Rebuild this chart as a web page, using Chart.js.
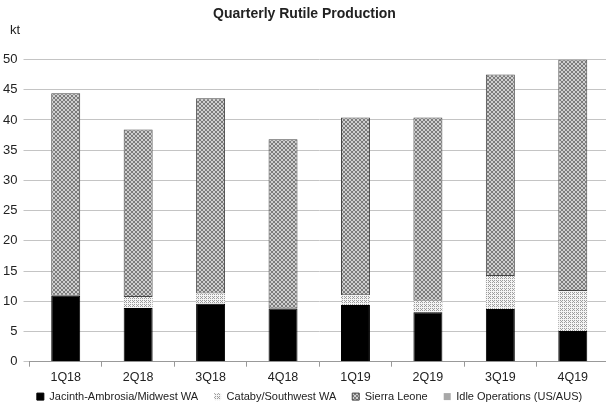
<!DOCTYPE html>
<html>
<head>
<meta charset="utf-8">
<script src="https://cdn.jsdelivr.net/npm/chart.js@4.4.1/dist/chart.umd.min.js"></script>
<style>
  html, body { margin: 0; padding: 0; background: #fff; overflow: hidden; }
  #wrap { width: 606px; height: 408px; overflow: hidden; }
</style>
</head>
<body>
<div id="wrap"><canvas id="chart" width="612" height="408"></canvas></div>
<script>
// data (kt)
const quarters = ['1Q18', '2Q18', '3Q18', '4Q18', '1Q19', '2Q19', '3Q19', '4Q19'];
const jacinth = [10.9, 8.9, 9.6, 8.8, 9.4, 8.2, 8.7, 5.1];
const cataby = [0, 1.8, 1.7, 0, 1.6, 1.9, 5.5, 6.6];
const sierraLeone = [33.5, 27.7, 32.3, 28.0, 29.4, 30.3, 33.3, 38.3];
const idleOps = [0, 0, 0, 0, 0, 0, 0, 0];
const yTicks = [0, 5, 10, 15, 20, 25, 30, 35, 40, 45, 50];

// hatch fills like the old excel ones
function makePattern(bg, fg, cells) {
    const c = document.createElement('canvas');
    c.width = 4; c.height = 4;
    const x = c.getContext('2d');
    x.fillStyle = bg;
    x.fillRect(0, 0, 4, 4);
    x.fillStyle = fg;
    cells.forEach(p => x.fillRect(p[0], p[1], 1, 1));
    return x.createPattern(c, 'repeat');
}
const sierraFill = makePattern('#cfcfcf', '#7c7c7c', [[0, 0], [1, 1], [2, 2], [3, 3], [0, 3], [1, 2], [2, 1], [3, 0]]);
const catabyFill = makePattern('#f4f4f4', '#9c9c9c', [[0, 0], [2, 0], [0, 2], [2, 2], [1, 1]]);

const ktLabel = {
    id: 'ktLabel',
    beforeInit(chart) {
        // squeeze the legend so the plot keeps its height, then draw it a bit higher
        const lg = chart.legend;
        const fit = lg.fit.bind(lg);
        lg.fit = function() { fit(); this.height = 23.9; };
        const draw = lg.draw.bind(lg);
        lg.draw = function() {
            const top = this.top, bottom = this.bottom;
            this.top = top - 9;
            this.bottom = chart.height;
            const ctx = this.ctx;
            ctx.save();
            ctx.translate(5, 0);
            draw();
            ctx.restore();
            this.top = top;
            this.bottom = bottom;
        };
    },
    afterDraw(chart) {
        const ctx = chart.ctx;
        ctx.save();
        ctx.font = '13px "Liberation Sans", Arial, sans-serif';
        ctx.fillStyle = '#222';
        ctx.textBaseline = 'middle';
        ctx.fillText('kt', 10, 30);
        ctx.restore();
    }
};

new Chart(document.getElementById('chart').getContext('2d'), {
    type: 'bar',
    data: {
        labels: quarters,
        datasets: [
            { label: 'Jacinth-Ambrosia/Midwest WA', data: jacinth, backgroundColor: '#000', borderColor: '#000', borderWidth: 1 },
            { label: 'Cataby/Southwest WA', data: cataby, backgroundColor: catabyFill, borderColor: '#9a9a9a', borderWidth: 0 },
            { label: 'Sierra Leone', data: sierraLeone, backgroundColor: sierraFill, borderColor: '#444', borderWidth: 1, borderSkipped: false },
            { label: 'Idle Operations (US/AUS)', data: idleOps, backgroundColor: '#a8a8a8', borderColor: '#a8a8a8', borderWidth: 0 }
        ]
    },
    options: {
        responsive: false,
        animation: false,
        layout: { padding: { left: 0, right: 3, top: 0, bottom: 0 } },
        datasets: { bar: { categoryPercentage: 1, barPercentage: 0.4 } },
        scales: {
            x: {
                stacked: true,
                afterFit: s => { s.height = 22.4; },
                grid: { drawOnChartArea: false, drawTicks: true, tickLength: 5, color: '#999', offset: true },
                border: { color: '#999' },
                ticks: { color: '#222', font: { size: 12.5, family: '"Liberation Sans", Arial, sans-serif' }, padding: 3, maxRotation: 0 }
            },
            y: {
                stacked: true,
                min: 0,
                max: 50,
                afterBuildTicks: s => { s.ticks = yTicks.map(v => ({ value: v })); },
                afterFit: s => { s.width = 29.5; },
                grid: { color: '#c4c4c4', tickLength: 6 },
                border: { display: false },
                ticks: { color: '#222', font: { size: 13, family: '"Liberation Sans", Arial, sans-serif' }, padding: 6 }
            }
        },
        plugins: {
            title: {
                display: true,
                text: 'Quarterly Rutile Production',
                color: '#222',
                font: { size: 14, weight: 'bold', family: '"Liberation Sans", Arial, sans-serif' },
                padding: { top: 6, bottom: 36.7 }
            },
            legend: {
                position: 'bottom',
                labels: {
                    color: '#222',
                    boxWidth: 7,
                    boxHeight: 7,
                    padding: 16,
                    font: { size: 11, family: '"Liberation Sans", Arial, sans-serif' }
                }
            },
            tooltip: { enabled: false }
        }
    },
    plugins: [ktLabel]
});
</script>
</body>
</html>
